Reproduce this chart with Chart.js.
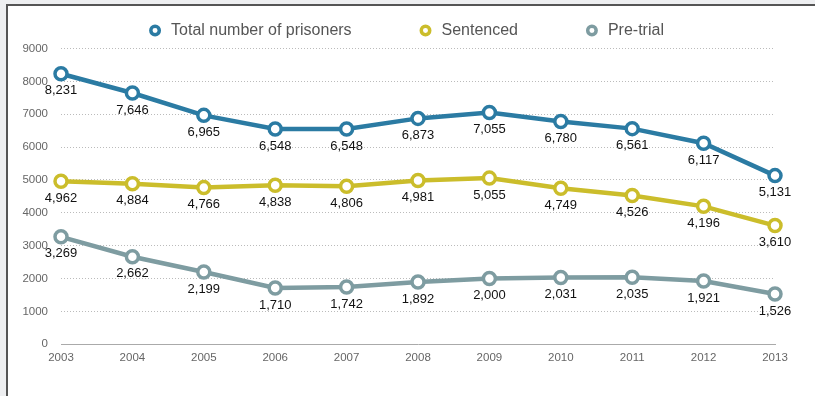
<!DOCTYPE html>
<html>
<head>
<meta charset="utf-8">
<script src="https://cdn.jsdelivr.net/npm/chart.js@4"></script>
<style>
html,body{margin:0;padding:0;background:#eeeff1;width:815px;height:396px;overflow:hidden;}
#frame{position:absolute;left:6px;top:4px;width:809px;height:392px;border-left:2px solid #555;border-top:2px solid #555;background:#fff;}
#c{position:absolute;left:0;top:0;}
</style>
</head>
<body>
<div id="frame"></div>
<canvas id="c" width="815" height="396"></canvas>
<script>
const years = ['2003','2004','2005','2006','2007','2008','2009','2010','2011','2012','2013'];
const totalPrisoners = [8231,7646,6965,6548,6548,6873,7055,6780,6561,6117,5131];
const sentenced = [4962,4884,4766,4838,4806,4981,5055,4749,4526,4196,3610];
const preTrial = [3269,2662,2199,1710,1742,1892,2000,2031,2035,1921,1526];
const seriesNames = ['Total number of prisoners','Sentenced','Pre-trial'];
const seriesColors = ['#2b7ba3','#cbbd2b','#7e9ca1'];

const FONT = '"Liberation Sans", Arial, Helvetica, sans-serif';

function ds(label, data, color){
  return {
    label, data,
    borderColor: color,
    backgroundColor: color,
    borderWidth: 4.5,
    pointRadius: 6,
    pointHoverRadius: 6,
    pointBackgroundColor: '#fff',
    pointBorderColor: color,
    pointBorderWidth: 3.5,
    tension: 0
  };
}

const dataLabels = {
  id: 'dataLabels',
  afterDatasetsDraw(chart){
    const ctx = chart.ctx;
    ctx.save();
    ctx.font = '13px ' + FONT;
    ctx.fillStyle = '#111';
    ctx.textAlign = 'center';
    ctx.textBaseline = 'middle';
    chart.data.datasets.forEach((d, i) => {
      const meta = chart.getDatasetMeta(i);
      meta.data.forEach((pt, j) => {
        ctx.fillText(d.data[j].toLocaleString('en-US'), pt.x, pt.y + 17);
      });
    });
    ctx.restore();
  }
};

// centre the legend over the plot as in the reference
const legendShift = {
  id: 'legendShift',
  afterLayout(chart){
    if (chart.legend) { chart.legend.left += 18; chart.legend.right += 18; }
  }
};

new Chart(document.getElementById('c'), {
  type: 'line',
  data: {
    labels: years,
    datasets: [
      ds(seriesNames[0], totalPrisoners, seriesColors[0]),
      ds(seriesNames[1], sentenced, seriesColors[1]),
      ds(seriesNames[2], preTrial, seriesColors[2])
    ]
  },
  options: {
    responsive: false,
    animation: false,
    events: [],
    layout: { padding: { left: 0, right: 40, top: 11, bottom: 24 } },
    plugins: {
      tooltip: { enabled: false },
      legend: {
        position: 'top',
        labels: {
          usePointStyle: true,
          pointStyle: 'circle',
          boxHeight: 6,
          padding: 11.5,
          color: '#555',
          font: { family: FONT, size: 16 },
          generateLabels(chart){
            const items = Chart.defaults.plugins.legend.labels.generateLabels(chart);
            items.forEach((it, i) => {
              it.text = it.text + (i < items.length - 1 ? '\u2003\u2003\u2003\u2009\u2009' : '');
              it.fillStyle = '#fff';
            });
            return items;
          }
        }
      }
    },
    scales: {
      x: {
        offset: false,
        grid: { display: false, drawTicks: false },
        border: { display: true, color: '#aaa', width: 1 },
        ticks: { color: '#666', font: { family: FONT, size: 11.5 }, padding: 7, maxRotation: 0 }
      },
      y: {
        min: 0, max: 9000,
        afterFit(scale){ scale.width = 61; },
        grid: {
          drawTicks: false,
          color: ctx => ctx.tick && ctx.tick.value === 0 ? 'rgba(0,0,0,0)' : '#bbb',
          lineWidth: 1
        },
        border: { display: false, dash: [1, 2] },
        ticks: {
          stepSize: 1000, color: '#666', font: { family: FONT, size: 11.5 }, padding: 13,
          callback: v => String(v)
        }
      }
    }
  },
  plugins: [dataLabels, legendShift]
});
</script>
</body>
</html>
